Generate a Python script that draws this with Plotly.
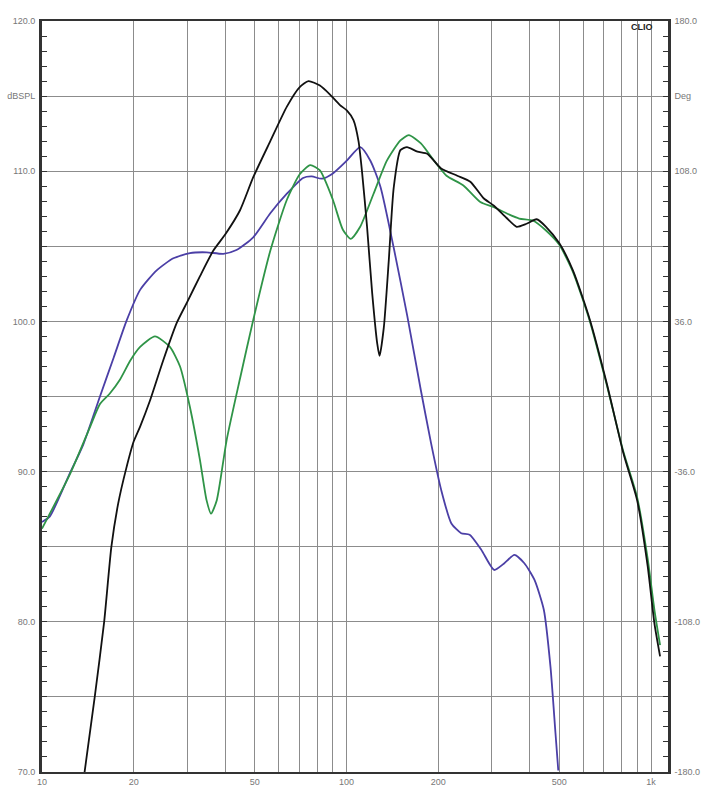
import plotly.graph_objects as go
import math

# ---- data ----
black_f = [13.8, 14.9, 16.0, 16.9, 17.8, 18.9, 20.0, 21.0, 22.6, 25.0, 27.7, 30.0, 33.0, 36.5, 40.0,
           44.7, 49.4, 56.2, 63.7, 70.2, 75.0, 81.8, 88.3, 95.2, 100.2, 105.4, 109.5, 112.4, 116.8,
           121.4, 126.2, 128.4, 132.6, 137.7, 142.9, 150.3, 158, 171, 184.5, 204, 231, 255, 282, 305,
           335, 362, 390, 421, 452, 500, 554, 630, 715, 812, 900, 975, 1026, 1071]
black_db = [70.0, 75.0, 80.0, 85.0, 87.9, 90.2, 92.0, 93.0, 94.7, 97.4, 99.9, 101.3, 103.0, 104.7, 105.8,
            107.4, 109.6, 112.0, 114.3, 115.6, 116.0, 115.7, 115.1, 114.4, 114.05, 113.4, 112.0, 110.0, 106.3,
            101.9, 98.5, 97.7, 99.6, 104.1, 108.9, 111.4, 111.6, 111.3, 111.15, 110.2, 109.7, 109.3, 108.2, 107.7,
            106.9, 106.3, 106.5, 106.8, 106.3, 105.2, 103.4, 100.1, 95.9, 91.2, 88.1, 83.7, 79.9, 77.7]

blue_f = [10, 10.6, 12.35, 13.66, 15.5, 17.2, 19.0, 21.0, 23.8, 27.0, 30.6, 34.7, 39.4, 43.5, 49.4,
          56.2, 63.7, 72.0, 76.9, 83.0, 90.2, 100.2, 110.9, 119.8, 129.3, 142.9, 158.2, 175.5, 189.5,
          204.5, 221, 238, 253.7, 277, 305.5, 330, 356, 383.7, 414, 444.6, 467.6, 485.5, 496]
blue_db = [86.65, 87.0, 89.9, 91.8, 95.0, 97.6, 100.1, 102.1, 103.4, 104.2, 104.55, 104.6, 104.5, 104.75, 105.6,
           107.2, 108.5, 109.55, 109.65, 109.5, 109.85, 110.7, 111.6, 110.7, 108.95, 104.9, 100.4, 95.4, 91.9,
           88.8, 86.55, 85.9, 85.8, 84.8, 83.45, 83.9, 84.45, 83.9, 82.8, 80.8, 77.0, 72.6, 70.1]

green_f = [10, 12.4, 14.4, 15.5, 16.7, 18.0, 19.5, 21.0, 23.5, 26.3, 28.4, 30.6, 33.0, 34.7, 35.9, 37.5,
           40.4, 44.7, 49.4, 56.2, 63.7, 70.2, 76.0, 81.8, 90.2, 97.3, 103.3, 110.9, 122.7, 135.7, 150.3,
           160.2, 175.5, 193.8, 213, 242, 275, 305, 335, 369, 411, 452, 500, 554, 630, 715, 812, 900, 975,
           1026, 1071]
green_db = [86.2, 89.9, 93.0, 94.5, 95.2, 96.1, 97.4, 98.3, 99.0, 98.3, 97.0, 94.3, 90.8, 88.1, 87.2, 88.1,
            92.1, 96.2, 100.1, 104.7, 108.1, 109.8, 110.4, 110.05, 108.1, 106.1, 105.5, 106.3, 108.5, 110.7, 112.05,
            112.4, 111.85, 110.7, 109.7, 109.05, 107.95, 107.6, 107.2, 106.85, 106.7, 106.05, 105.1, 103.3, 100.0,
            95.8, 91.3, 88.3, 84.2, 80.8, 78.45]

x_grid = [10, 20, 30, 40, 50, 60, 70, 80, 90, 100, 200, 300, 400, 500, 600, 700, 800, 900, 1000]
x_labels = {10: "10", 20: "20", 50: "50", 100: "100", 200: "200", 500: "500", 1000: "1k"}
y_vals = [70, 75, 80, 85, 90, 95, 100, 105, 110, 115, 120]
y_text = ["70.0", "", "80.0", "", "90.0", "", "100.0", "", "110.0", "dBSPL", "120.0"]
deg_vals = [-180, -144, -108, -72, -36, 0, 36, 72, 108, 144, 180]
deg_text = ["-180.0", "", "-108.0", "", "-36.0", "", "36.0", "", "108.0", "Deg", "180.0"]

x_max = 1137

fig = go.Figure()
fig.add_trace(go.Scatter(x=blue_f, y=blue_db, mode="lines", hoverinfo="skip",
                         line=dict(color="#4b3fa6", width=1.8, shape="spline", smoothing=0.6)))
fig.add_trace(go.Scatter(x=green_f, y=green_db, mode="lines", hoverinfo="skip",
                         line=dict(color="#2f9447", width=1.8, shape="spline", smoothing=0.6)))
fig.add_trace(go.Scatter(x=black_f, y=black_db, mode="lines", hoverinfo="skip",
                         line=dict(color="#111111", width=1.8, shape="spline", smoothing=0.6)))
# empty trace so that the right-hand (phase) axis is drawn
fig.add_trace(go.Scatter(x=[], y=[], mode="lines", yaxis="y2", hoverinfo="skip"))

tickfont = dict(family="Liberation Sans, Arial", size=9, color="#777777")

fig.update_layout(
    template="none",
    width=705, height=800,
    margin=dict(l=42, r=37, t=21, b=28),
    paper_bgcolor="white", plot_bgcolor="white",
    showlegend=False,
    xaxis=dict(type="log", range=[1, math.log10(x_max)], automargin=False,
               tickmode="array", tickvals=x_grid,
               ticktext=[x_labels.get(v, "") for v in x_grid],
               showgrid=True, gridcolor="#8c8c8c", gridwidth=1.3,
               ticks="", showline=True, linecolor="#333333", linewidth=2, mirror=True,
               tickfont=tickfont, zeroline=False),
    yaxis=dict(range=[70, 120], tickmode="array", tickvals=y_vals, ticktext=y_text, automargin=False,
               showgrid=True, gridcolor="#8c8c8c", gridwidth=1.3,
               ticks="inside", ticklen=5, tickcolor="#333333",
               minor=dict(tick0=70, dtick=1, ticks="inside", ticklen=5, tickcolor="#333333", showgrid=False),
               showline=True, linecolor="#333333", linewidth=3, mirror=True,
               tickfont=tickfont, zeroline=False, ticklabelstandoff=2),
    yaxis2=dict(range=[-180, 180], overlaying="y", side="right", anchor="x", automargin=False,
                tickmode="array", tickvals=deg_vals, ticktext=deg_text,
                showgrid=False, ticks="inside", ticklen=5, tickcolor="#333333",
                minor=dict(tick0=-180, dtick=7.2, ticks="inside", ticklen=5, tickcolor="#333333", showgrid=False),
                showline=True, linecolor="#333333", linewidth=2.5,
                tickfont=tickfont, zeroline=False, ticklabelstandoff=2),
    annotations=[dict(text="<b>CLIO</b>", xref="paper", yref="paper", x=0.958, y=0.992,
                      xanchor="center", yanchor="middle", showarrow=False,
                      font=dict(family="Liberation Sans, Arial", size=9, color="#222222"))],
)

fig.write_html("out.html", config={"displayModeBar": False},
               post_script="document.body.style.margin='0';")
